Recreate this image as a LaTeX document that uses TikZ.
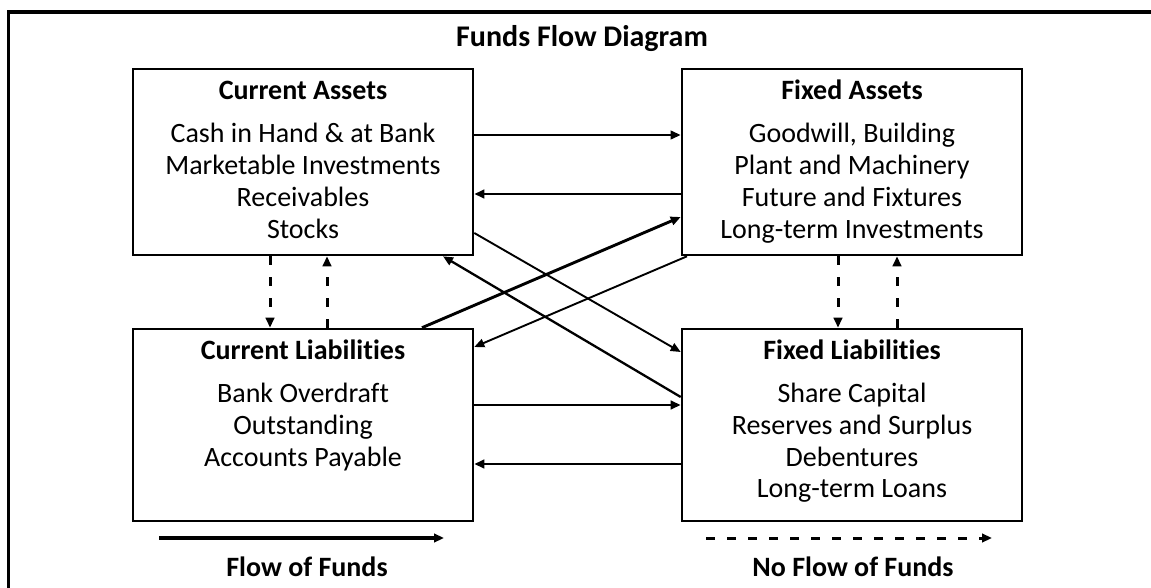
\documentclass[tikz,border=0pt]{standalone}
\usepackage{fontspec}
\setmainfont{Carlito}[Ligatures=NoCommon]
\usetikzlibrary{arrows.meta}
\begin{document}
\begin{tikzpicture}[x=1pt,y=-1pt,
  box/.style={draw, line width=2.6pt, minimum width=340pt, inner sep=0pt},
  head/.style={font=\fontsize{28}{32}\selectfont\bfseries, anchor=base, inner sep=0pt},
  item/.style={font=\fontsize{28}{32}\selectfont, anchor=base, inner sep=0pt},
  tip/.style={-{Triangle[length=10pt,width=8.5pt]}},
  flowthin/.style={tip, line width=1.9pt},
  flowmid/.style={tip, line width=2.3pt},
  flowthick/.style={tip, line width=2.9pt},
  noflow/.style={tip, line width=3pt, dash pattern=on 9pt off 12pt}
]
\useasboundingbox (0,0) rectangle (1151,588);
% frame (top and left only)
\draw[line width=3.6pt] (8.5,588) -- (8.5,12) -- (1151,12);

% title
\node[font=\fontsize{30}{34}\selectfont\bfseries, anchor=base, inner sep=0pt] (title) at (582,46.7) {Funds Flow Diagram};

% boxes
\node[box, minimum height=186pt] (ca) at (303,162) {};
\node[box, minimum height=186pt] (fa) at (852,162) {};
\node[box, minimum height=192pt] (cl) at (303,425) {};
\node[box, minimum height=192pt] (fl) at (852,425) {};

% Current Assets
\node[head] (cah) at (303,100) {Current Assets};
\node[item] (ca1) at (303,143) {Cash in Hand \& at Bank};
\node[item] (ca2) at (303,174.7) {Marketable Investments};
\node[item] (ca3) at (303,206.3) {Receivables};
\node[item] (ca4) at (303,238) {Stocks};

% Fixed Assets
\node[head] (fah) at (852,100) {Fixed Assets};
\node[item] (fa1) at (852,143) {Goodwill, Building};
\node[item] (fa2) at (852,174.7) {Plant and Machinery};
\node[item] (fa3) at (852,206.3) {Future and Fixtures};
\node[item] (fa4) at (852,238) {Long-term Investments};

% Current Liabilities
\node[head] (clh) at (303,359) {Current Liabilities};
\node[item] (cl1) at (303,402.5) {Bank Overdraft};
\node[item] (cl2) at (303,434.2) {Outstanding};
\node[item] (cl3) at (303,466) {Accounts Payable};

% Fixed Liabilities
\node[head] (flh) at (852,359) {Fixed Liabilities};
\node[item] (fl1) at (852,402.5) {Share Capital};
\node[item] (fl2) at (852,434.2) {Reserves and Surplus};
\node[item] (fl3) at (852,466) {Debentures};
\node[item] (fl4) at (852,497.7) {Long-term Loans};

% flow of funds connectors
\draw[flowmid]   (ca.east |- 0,135) -- (fa.west |- 0,135);
\draw[flowthick] (fa.west |- 0,194) -- (ca.east |- 0,194);
\draw[flowthin]  (ca.east |- 0,233) -- (fl.west |- 0,352);
\draw[flowmid]   (fl.west |- 0,397) -- (ca.south -| 443,0);
\draw[flowthick] (cl.north -| 422,0) -- (fa.west |- 0,217);
\draw[flowthin]  (fa.south -| 687,0) -- (cl.east |- 0,347);
\draw[flowthick] (cl.east |- 0,405) -- (fl.west |- 0,405);
\draw[flowthick] (fl.west |- 0,464) -- (cl.east |- 0,464);

% no flow of funds connectors
\draw[noflow] (ca.south -| 270,0) -- (cl.north -| 270,0);
\draw[noflow] (cl.north -| 327,0) -- (ca.south -| 327,0);
\draw[noflow] (fa.south -| 838,0) -- (fl.north -| 838,0);
\draw[noflow] (fl.north -| 897,0) -- (fa.south -| 897,0);

% legend
\coordinate (l1s) at (159,538);
\coordinate (l1e) at (444,538);
\coordinate (l2s) at (706,538);
\coordinate (l2e) at (992,538);
\draw[tip, line width=3.4pt] (l1s) -- (l1e);
\draw[noflow] (l2s) -- (l2e);
\node[head] (lg1) at (307,576.7) {Flow of Funds};
\node[head] (lg2) at (853,576.7) {No Flow of Funds};
\end{tikzpicture}
\end{document}
